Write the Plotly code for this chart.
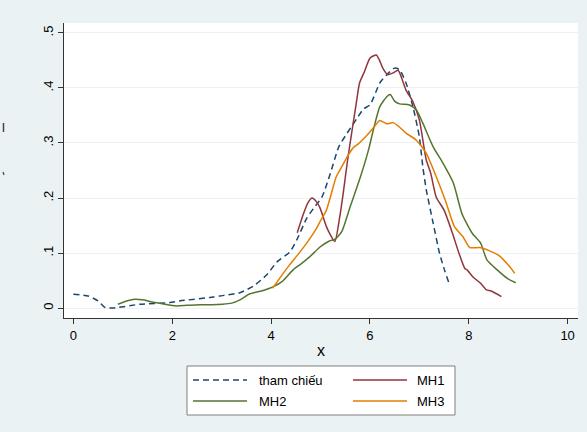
import plotly.graph_objects as go

# ---- data ----
ref_x = [0.0, 0.3, 0.5, 0.64, 0.8, 1.35, 1.95, 2.15, 2.83, 2.96, 3.37, 3.64, 3.91, 4.12, 4.38, 4.52,
         4.72, 4.85, 5.03, 5.2, 5.37, 5.54, 5.74, 5.87, 6.0, 6.2, 6.34, 6.5, 6.6, 6.73, 6.87, 7.0,
         7.07, 7.14, 7.28, 7.41, 7.51, 7.6]
ref_y = [0.025, 0.022, 0.013, 0.001, 0.0, 0.007, 0.01, 0.013, 0.02, 0.022, 0.028, 0.04, 0.06, 0.084,
         0.102, 0.124, 0.163, 0.18, 0.202, 0.245, 0.293, 0.318, 0.345, 0.362, 0.369, 0.409, 0.424,
         0.436, 0.433, 0.409, 0.366, 0.311, 0.257, 0.215, 0.154, 0.099, 0.069, 0.045]

mh1_x = [4.53, 4.65, 4.75, 4.83, 4.92, 4.99, 5.12, 5.2, 5.29, 5.39, 5.46, 5.55, 5.63, 5.72, 5.79,
         5.89, 6.0, 6.13, 6.19, 6.26, 6.36, 6.46, 6.57, 6.63, 6.73, 6.87, 7.0, 7.14, 7.23, 7.34,
         7.5, 7.67, 7.8, 7.92, 7.97, 8.08, 8.24, 8.36, 8.45, 8.66]
mh1_y = [0.137, 0.17, 0.192, 0.2, 0.193, 0.182, 0.148, 0.133, 0.121, 0.166, 0.209, 0.27, 0.318,
         0.37, 0.409, 0.43, 0.454, 0.46, 0.451, 0.436, 0.424, 0.427, 0.432, 0.421, 0.396, 0.375,
         0.342, 0.269, 0.245, 0.202, 0.178, 0.136, 0.1, 0.072, 0.069, 0.057, 0.045, 0.033, 0.031,
         0.021]

mh2_x = [0.9, 1.05, 1.24, 1.4, 1.55, 1.8, 2.08, 2.3, 2.55, 2.8, 3.02, 3.2, 3.37, 3.57, 3.84,
         4.05, 4.22, 4.45, 4.6, 4.78, 4.99, 5.18, 5.29, 5.43, 5.6, 5.81, 5.97, 6.07, 6.2, 6.34,
         6.41, 6.5, 6.6, 6.8, 6.94, 7.07, 7.28, 7.48, 7.69, 7.86, 8.07, 8.24, 8.37, 8.58, 8.78,
         8.95]
mh2_y = [0.007, 0.012, 0.016, 0.015, 0.012, 0.008, 0.004, 0.005, 0.006, 0.006, 0.007, 0.009,
         0.015, 0.026, 0.032, 0.039, 0.048, 0.07, 0.08, 0.093, 0.111, 0.122, 0.125, 0.139, 0.184,
         0.239, 0.287, 0.324, 0.366, 0.384, 0.388, 0.376, 0.371, 0.369, 0.36, 0.336, 0.293, 0.263,
         0.227, 0.172, 0.136, 0.118, 0.087, 0.069, 0.054, 0.046]

mh3_x = [4.03, 4.18, 4.37, 4.55, 4.72, 4.9, 4.99, 5.12, 5.2, 5.32, 5.4, 5.56, 5.67, 5.76, 5.93,
         6.1, 6.2, 6.34, 6.47, 6.57, 6.73, 6.94, 7.14, 7.34, 7.54, 7.71, 7.88, 8.02, 8.22, 8.42,
         8.62, 8.83, 8.93]
mh3_y = [0.036, 0.055, 0.078, 0.098, 0.118, 0.142, 0.157, 0.178, 0.202, 0.239, 0.252, 0.278,
         0.292, 0.298, 0.313, 0.331, 0.341, 0.335, 0.337, 0.331, 0.318, 0.305, 0.281, 0.239,
         0.192, 0.148, 0.13, 0.11, 0.11, 0.104, 0.095, 0.075, 0.063]

names = ["tham chiếu", "MH1", "MH2", "MH3"]
colors = ["#1a476f", "#90353b", "#55752f", "#e37e00"]
dashes = ["6px,4px", "solid", "solid", "solid"]

x_ticks = [0, 2, 4, 6, 8, 10]
y_ticks = [0, 0.1, 0.2, 0.3, 0.4, 0.5]
y_tick_text = ["0", ".1", ".2", ".3", ".4", ".5"]

W, H = 587, 432
L, R, T, B = 64, 9, 23, 114
BG = "#eaf2f3"

fig = go.Figure()
series = [(ref_x, ref_y), (mh1_x, mh1_y), (mh2_x, mh2_y), (mh3_x, mh3_y)]
for (xs, ys), n, c, d in zip(series, names, colors, dashes):
    fig.add_trace(go.Scatter(x=xs, y=ys, mode="lines", name=n, showlegend=False,
                             line=dict(color=c, width=1.5, dash=d, shape="spline", smoothing=0.6)))

pw = W - L - R
ph = H - T - B


def px_x(p):
    return (p - L) / pw


def px_y(p):
    return (H - B - p) / ph


shapes = []
annotations = []
# legend box
shapes.append(dict(type="rect", xref="paper", yref="paper", x0=px_x(187), x1=px_x(455),
                   y0=px_y(415), y1=px_y(366), line=dict(color="#7f7f7f", width=1),
                   fillcolor="white", layer="above"))
legend_pos = [(193, 247, 257, 380), (353, 407, 446, 380), (193, 247, 257, 401), (353, 407, 446, 401)]
for (lx0, lx1, tx, ty), n, c, d in zip(legend_pos, names, colors, dashes):
    shapes.append(dict(type="line", xref="paper", yref="paper", x0=px_x(lx0), x1=px_x(lx1),
                       y0=px_y(ty), y1=px_y(ty), line=dict(color=c, width=1.5, dash=d)))
    right = n in ("MH1", "MH3")
    annotations.append(dict(xref="paper", yref="paper", x=px_x(tx), y=px_y(ty), text=n,
                            showarrow=False, xanchor="right" if right else "left",
                            yanchor="middle", font=dict(size=13, color="#000")))

# faint marks in the y-title area of the reference
shapes.append(dict(type="line", xref="paper", yref="paper", x0=px_x(3.5), x1=px_x(3.5),
                   y0=px_y(123), y1=px_y(132), line=dict(color="#444", width=1.5)))
shapes.append(dict(type="line", xref="paper", yref="paper", x0=px_x(3), x1=px_x(4),
                   y0=px_y(172), y1=px_y(175), line=dict(color="#444", width=1.2)))

fig.update_layout(
    width=W, height=H,
    margin=dict(l=L, r=R, t=T, b=B),
    paper_bgcolor=BG, plot_bgcolor="white",
    font=dict(family="Liberation Sans, Arial, sans-serif", size=13, color="#000"),
    shapes=shapes, annotations=annotations,
    xaxis=dict(range=[-0.19, 10.21], tickvals=x_ticks, ticks="outside", ticklen=5,
               tickcolor="#333", showgrid=False, zeroline=False, showline=True,
               linecolor="#333", linewidth=1, title=dict(text="x", standoff=3),
               tickfont=dict(size=13)),
    yaxis=dict(range=[-0.018, 0.518], tickvals=y_ticks, ticktext=y_tick_text, ticks="outside",
               ticklen=5, tickcolor="#333", tickangle=-90, showgrid=True, gridcolor=BG,
               gridwidth=1, zeroline=False, showline=True, linecolor="#333", linewidth=1,
               tickfont=dict(size=13)),
)

fig.write_html("out.html", config={"displayModeBar": False},
               post_script="document.body.style.margin='0';document.body.style.background='%s';" % BG)
